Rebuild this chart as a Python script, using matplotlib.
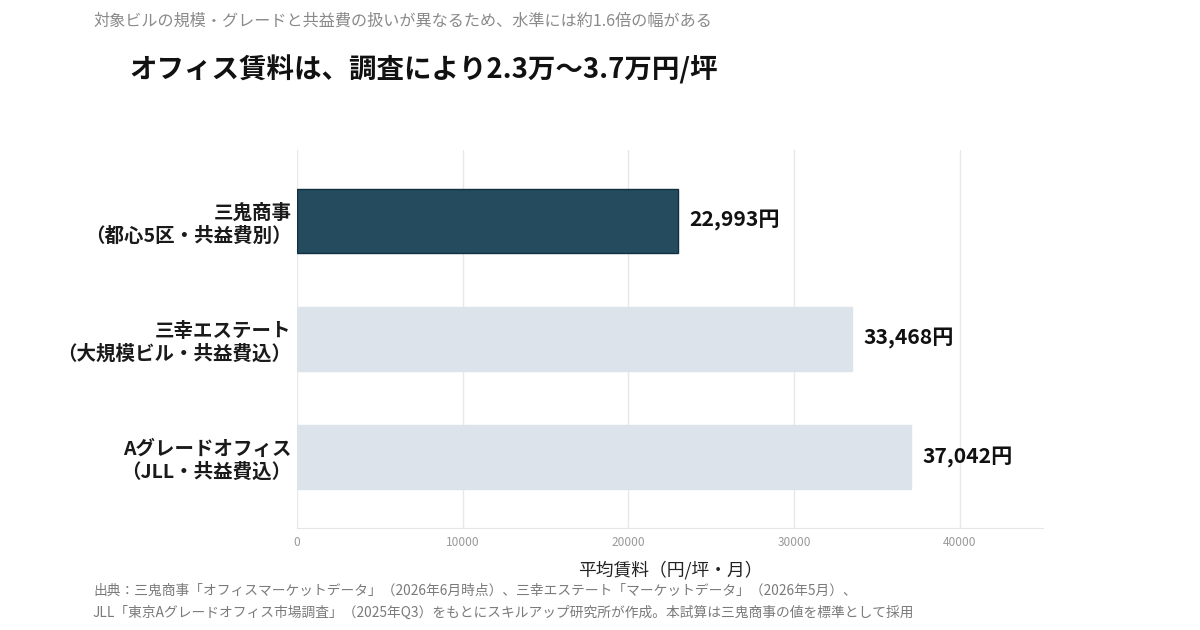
import matplotlib
matplotlib.use("Agg")
import matplotlib.pyplot as plt

plt.rcParams['font.family'] = ['Noto Sans CJK JP', 'DejaVu Sans']

categories = ["三鬼商事\n（都心5区・共益費別）",
              "三幸エステート\n（大規模ビル・共益費込）",
              "Aグレードオフィス\n（JLL・共益費込）"]
rents = [22993, 33468, 37042]
bar_colors = ["#244b5e", "#dce3ea", "#dce3ea"]
edge_colors = ["#10303f", "#dce3ea", "#dce3ea"]
x_ticks = [0, 10000, 20000, 30000, 40000]

fig = plt.figure(figsize=(12, 6.3), dpi=100)
ax = fig.add_axes([0.2475, 0.162, 0.6215, 0.6])

ypos = list(range(len(categories)))
ax.barh(ypos, rents, height=0.54, color=bar_colors, edgecolor=edge_colors, linewidth=1, zorder=2)

for y, v in zip(ypos, rents):
    ax.text(v + 700, y, f"{v:,}円", va="center", ha="left", fontsize=15.2,
            fontweight="bold", color="#111111")

ax.set_xlim(0, 45000)
ax.set_ylim(2.6, -0.6)
ax.set_yticks(ypos)
ax.set_yticklabels(categories, fontsize=14, fontweight="bold", color="#1a1a1a", linespacing=1.25)
ax.set_xticks(x_ticks)
ax.set_xticklabels([str(t) for t in x_ticks], fontsize=8.6, color="#999999")
ax.tick_params(axis="both", length=0)
ax.tick_params(axis="x", pad=6)
ax.tick_params(axis="y", pad=4)
ax.grid(axis="x", color="#e8e8e8", linewidth=1, zorder=0)
for side in ["top", "right", "left"]:
    ax.spines[side].set_visible(False)
ax.spines["bottom"].set_color("#e6e6e6")
ax.set_xlabel("平均賃料（円/坪・月）", fontsize=12.8, color="#222222", labelpad=8)

fig.text(0.0775, 0.966, "対象ビルの規模・グレードと共益費の扱いが異なるため、水準には約1.6倍の幅がある",
         fontsize=11.6, color="#8a8a8a", va="center", ha="left")
fig.text(0.108, 0.889, "オフィス賃料は、調査により2.3万〜3.7万円/坪",
         fontsize=19.8, fontweight="bold", color="#111111", va="center", ha="left")
fig.text(0.0775, 0.063, "出典：三鬼商事「オフィスマーケットデータ」（2026年6月時点）、三幸エステート「マーケットデータ」（2026年5月）、",
         fontsize=9.9, color="#7a7a7a", va="center", ha="left")
fig.text(0.0775, 0.028, "JLL「東京Aグレードオフィス市場調査」（2025年Q3）をもとにスキルアップ研究所が作成。本試算は三鬼商事の値を標準として採用",
         fontsize=9.9, color="#7a7a7a", va="center", ha="left")

fig.savefig("out.png", dpi=100, facecolor="white")
